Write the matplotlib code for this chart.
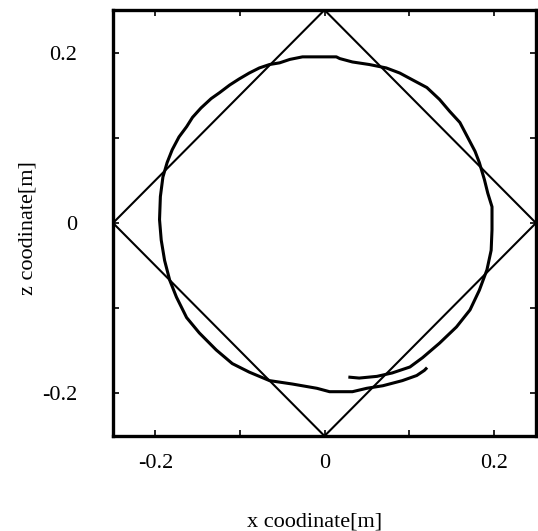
import matplotlib
matplotlib.use("Agg")
import matplotlib.pyplot as plt

plt.rcParams['font.family'] = ['Liberation Serif', 'DejaVu Serif']

# trajectory (x, z) in metres
traj_x = [0.120, 0.118, 0.109, 0.092, 0.069, 0.050, 0.033, 0.006, -0.009, -0.038,
          -0.065, -0.089, -0.109, -0.128, -0.148, -0.163, -0.175, -0.183, -0.189, -0.193,
          -0.195, -0.194, -0.191, -0.186, -0.180, -0.172, -0.163, -0.156, -0.146, -0.134,
          -0.124, -0.112, -0.101, -0.089, -0.077, -0.065, -0.053, -0.041, -0.026, -0.006,
          0.014, 0.018, 0.033, 0.053, 0.073, 0.089, 0.104, 0.121, 0.136, 0.148,
          0.160, 0.169, 0.178, 0.183, 0.189, 0.193, 0.198, 0.198, 0.197, 0.192,
          0.183, 0.172, 0.156, 0.136, 0.116, 0.101, 0.080, 0.062, 0.041, 0.030]
traj_z = [-0.171, -0.173, -0.179, -0.185, -0.191, -0.194, -0.198, -0.198, -0.194, -0.189,
          -0.185, -0.175, -0.165, -0.149, -0.129, -0.111, -0.087, -0.067, -0.044, -0.020,
          0.004, 0.031, 0.054, 0.071, 0.086, 0.101, 0.113, 0.124, 0.135, 0.146,
          0.153, 0.162, 0.169, 0.176, 0.182, 0.186, 0.188, 0.192, 0.195, 0.195,
          0.195, 0.193, 0.189, 0.186, 0.182, 0.176, 0.168, 0.159, 0.145, 0.131,
          0.118, 0.101, 0.084, 0.071, 0.051, 0.035, 0.019, -0.008, -0.032, -0.055,
          -0.079, -0.102, -0.122, -0.141, -0.158, -0.169, -0.176, -0.180, -0.182, -0.181]

# reference diamond
diamond_x = [0.0, 0.25, 0.0, -0.25, 0.0]
diamond_z = [0.25, 0.0, -0.25, 0.0, 0.25]

tick_values = [-0.2, -0.1, 0.0, 0.1, 0.2]
tick_labels = ['-0.2', '', '0', '', '0.2']

W, H = 538, 531
fig = plt.figure(figsize=(W / 100, H / 100), dpi=100)
ax = fig.add_axes([113 / W, 1 - 436 / H, (536 - 113) / W, (436 - 10) / H])

ax.plot(diamond_x, diamond_z, color='black', lw=1.5, solid_joinstyle='miter')
ax.plot(traj_x, traj_z, color='black', lw=2.2)

ax.set_xlim(-0.25, 0.25)
ax.set_ylim(-0.25, 0.25)
ax.set_xticks(tick_values)
ax.set_xticklabels(tick_labels)
ax.set_yticks(tick_values)
ax.set_yticklabels(tick_labels)
ax.tick_params(direction='in', length=4, width=1.2, top=True, right=True,
               labelsize=16, colors='black')
ax.tick_params(axis='x', pad=13)
ax.tick_params(axis='y', pad=26)
for s in ax.spines.values():
    s.set_linewidth(2.4)

fig.text(315 / W, 1 - 526 / H, 'x coodinate[m]', ha='center', va='baseline', fontsize=16)
fig.text(32 / W, 1 - 228 / H, 'z coodinate[m]', ha='center', va='baseline',
         rotation=90, rotation_mode='anchor', fontsize=16)

fig.savefig('out.png', dpi=100)
